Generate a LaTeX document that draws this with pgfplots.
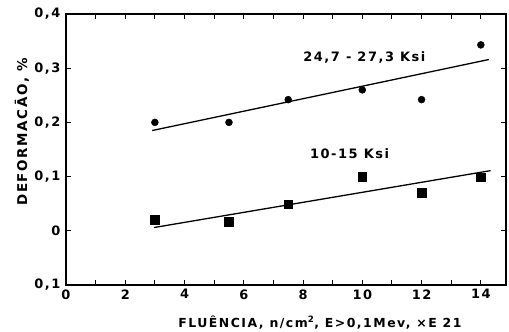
\documentclass[border=0pt]{standalone}
\usepackage{fontspec}
\setmainfont{DejaVu Sans}[LetterSpace=12]
\usepackage{pgfplots}
\pgfplotsset{compat=1.18}
\usetikzlibrary{calc}
\begin{document}
\begin{tikzpicture}[x=1bp,y=1bp]
\begin{axis}[
  scale only axis, width=440bp, height=271bp,
  xmin=0, xmax=14.85, ymin=-0.1, ymax=0.4,
  axis line style={line width=1.6bp},
  xtick={0,2,...,14}, minor xtick={1,3,...,13},
  ytick={-0.1,0,0.1,0.2,0.3,0.4},
  yticklabels={{0,1},{0},{0,1},{0,2},{0,3},{0,4}},
  tick align=inside, tick style={black, line width=1bp},
  major tick length=5bp, minor tick length=5bp,
  /pgf/number format/assume math mode=true,
  tick label style={font=\fontsize{13}{15}\selectfont\bfseries},
  xticklabel style={yshift=-1bp},
  yticklabel style={xshift=-2bp},
  xlabel={FLUÊNCIA, n/cm\textsuperscript{2}, E>0,1Mev, ×E 21},
  xlabel style={font=\fontsize{12.5}{14}\selectfont\bfseries, at={(axis description cs:0.577,-0.137)}, anchor=center},
  ylabel={DEFORMACĀO, \%},
  ylabel style={font=\fontsize{13.5}{15}\selectfont\bfseries, at={(axis description cs:-0.1,0.565)}, anchor=center, rotate=0},
  clip=false,
]
\addplot[only marks, mark=*, mark size=3.5bp, black] coordinates {
 (3,0.200) (5.5,0.200) (7.5,0.242) (10,0.260) (12,0.242) (14,0.343)
};
\addplot[no marks, black, line width=1.3bp] coordinates {(2.91,0.185) (14.27,0.316)};
\addplot[only marks, mark=square*, mark size=4.3bp, black] coordinates {
 (3,0.020) (5.5,0.017) (7.5,0.049) (10,0.100) (12,0.070) (14,0.099)
};
\addplot[no marks, black, line width=1.3bp] coordinates {(2.97,0.006) (14.33,0.111)};
\node[font=\fontsize{13}{15}\selectfont\bfseries] at (axis cs:10.07,0.32) {24,7 - 27,3 Ksi};
\node[font=\fontsize{13}{15}\selectfont\bfseries] at (axis cs:9.57,0.143) {10-15 Ksi};
\end{axis}
\pgfresetboundingbox
\path[use as bounding box] ($(current axis.south west)+(-66bp,-47bp)$) rectangle ($(current axis.north east)+(3bp,14bp)$);
\end{tikzpicture}
\end{document}
